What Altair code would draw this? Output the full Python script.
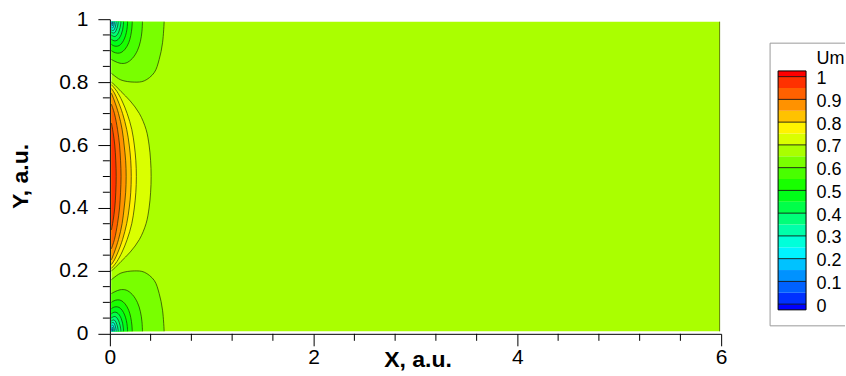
import altair as alt
import pandas as pd

FONT = "Liberation Sans"

# ---------------------------------------------------------------------------
# Contour levels of Um and the flood colour of every band
# (below 0, 0-0.05, 0.05-0.1, ..., 0.95-1, above 1)
# ---------------------------------------------------------------------------
BAND_COLORS = ["#0000FF", "#0031FF", "#0061FF", "#0092FF", "#00C2FF", "#00F3FF",
               "#00FFDA", "#00FFAA", "#00FF79", "#00FF49", "#00FF18", "#18FF00",
               "#49FF00", "#79FF00", "#AAFF00", "#DAFF00", "#FFF300", "#FFC200",
               "#FF9200", "#FF6100", "#FF3100", "#FF0000"]
BAND_LOW = [-0.025, 0.0, 0.05, 0.1, 0.15, 0.2, 0.25, 0.3, 0.35, 0.4, 0.45,
            0.5, 0.55, 0.6, 0.65, 0.7, 0.75, 0.8, 0.85, 0.9, 0.95, 1.0]
BAND_HIGH = [0.0, 0.05, 0.1, 0.15, 0.2, 0.25, 0.3, 0.35, 0.4, 0.45, 0.5,
             0.55, 0.6, 0.65, 0.7, 0.75, 0.8, 0.85, 0.9, 0.95, 1.0, 1.025]
LEGEND_LABELS = [0, 0.1, 0.2, 0.3, 0.4, 0.5, 0.6, 0.7, 0.8, 0.9, 1]

X_MAJOR = [0, 2, 4, 6]
X_MINOR = [0.4, 0.8, 1.2, 1.6, 2.4, 2.8, 3.2, 3.6, 4.4, 4.8, 5.2, 5.6]
Y_MAJOR = [0, 0.2, 0.4, 0.6, 0.8, 1]
Y_MINOR = [0.05, 0.1, 0.15, 0.25, 0.3, 0.35, 0.45, 0.5, 0.55,
           0.65, 0.7, 0.75, 0.85, 0.9, 0.95]

# computational domain and the far-field band (0.65 < Um < 0.7)
FIELD_X = [0.015, 5.985]
FIELD_Y = [0.008, 0.992]
FIELD_BAND = 14

# ---------------------------------------------------------------------------
# Core contours (Um >= level next to the inlet), upper half, y ascending;
# the lower half is the mirror image about y = 0.5
# ---------------------------------------------------------------------------
CORE_LEVELS = [0.70, 0.75, 0.80, 0.85, 0.90, 0.95]
CORE_Y = [
    [0.5, 0.55, 0.6, 0.65, 0.7, 0.74, 0.77, 0.79, 0.80],
    [0.5, 0.55, 0.6, 0.65, 0.7, 0.74, 0.77, 0.785, 0.792],
    [0.5, 0.55, 0.6, 0.65, 0.7, 0.74, 0.765, 0.78],
    [0.5, 0.55, 0.6, 0.65, 0.7, 0.74, 0.765],
    [0.5, 0.55, 0.6, 0.65, 0.7, 0.73],
    [0.5, 0.55, 0.6, 0.64, 0.67],
]
CORE_X = [
    [0.405, 0.40, 0.385, 0.355, 0.29, 0.20, 0.11, 0.05, 0.015],
    [0.26, 0.255, 0.24, 0.215, 0.17, 0.12, 0.07, 0.035, 0.015],
    [0.21, 0.205, 0.19, 0.165, 0.125, 0.08, 0.045, 0.015],
    [0.16, 0.155, 0.14, 0.12, 0.085, 0.045, 0.015],
    [0.11, 0.105, 0.095, 0.075, 0.045, 0.015],
    [0.062, 0.058, 0.048, 0.032, 0.015],
]

# ---------------------------------------------------------------------------
# Corner contours (Um <= level), bottom-left corner, x ascending;
# the top-left corner is the mirror image
# ---------------------------------------------------------------------------
CORNER_LEVELS = [0.65, 0.60, 0.55, 0.50, 0.45, 0.40, 0.35, 0.30, 0.25, 0.20, 0.15]
CORNER_X = [
    [0.015, 0.03, 0.108, 0.239, 0.337, 0.435, 0.484, 0.517, 0.533],
    [0.015, 0.05, 0.10, 0.16, 0.22, 0.27, 0.30, 0.315, 0.32],
    [0.015, 0.04, 0.075, 0.11, 0.15, 0.185, 0.205, 0.216, 0.22],
    [0.015, 0.035, 0.06, 0.09, 0.12, 0.145, 0.162, 0.171, 0.174],
    [0.015, 0.03, 0.05, 0.07, 0.093, 0.112, 0.125, 0.132, 0.134],
    [0.015, 0.027, 0.042, 0.058, 0.075, 0.09, 0.10, 0.106, 0.108],
    [0.015, 0.024, 0.034, 0.046, 0.058, 0.068, 0.076, 0.08, 0.082],
    [0.015, 0.022, 0.03, 0.038, 0.046, 0.053, 0.058, 0.061, 0.062],
    [0.015, 0.02, 0.026, 0.032, 0.037, 0.041, 0.044, 0.046],
    [0.015, 0.019, 0.023, 0.027, 0.03, 0.032, 0.033],
    [0.015, 0.018, 0.021, 0.023, 0.024],
]
CORNER_Y = [
    [0.172, 0.176, 0.193, 0.200, 0.196, 0.170, 0.128, 0.075, 0.008],
    [0.128, 0.134, 0.14, 0.139, 0.125, 0.10, 0.07, 0.038, 0.008],
    [0.10, 0.105, 0.108, 0.106, 0.095, 0.075, 0.052, 0.028, 0.008],
    [0.08, 0.084, 0.086, 0.084, 0.075, 0.06, 0.042, 0.023, 0.008],
    [0.064, 0.067, 0.069, 0.067, 0.06, 0.048, 0.034, 0.019, 0.008],
    [0.051, 0.053, 0.055, 0.054, 0.048, 0.038, 0.027, 0.016, 0.008],
    [0.041, 0.043, 0.044, 0.043, 0.038, 0.03, 0.022, 0.014, 0.008],
    [0.034, 0.035, 0.036, 0.035, 0.031, 0.025, 0.018, 0.012, 0.008],
    [0.027, 0.028, 0.028, 0.026, 0.023, 0.018, 0.013, 0.008],
    [0.021, 0.022, 0.021, 0.019, 0.016, 0.012, 0.008],
    [0.016, 0.016, 0.014, 0.011, 0.008],
]

# ---------------------------------------------------------------------------
# layout (pixels)
# ---------------------------------------------------------------------------
W, H = 612, 315
LEG_W = 75
LEG_GAP = 49
LEG_TEXT_X = 46.5
LEG_ZERO = 285.3      # legend: local pixel row of level 0
LEG_UNIT = 227.8      # legend: pixels per unit of Um
LINE_COLOR = "#1e2a00"

color_scale = alt.Scale(domain=list(range(len(BAND_COLORS))), range=BAND_COLORS)
X_SCALE = alt.Scale(domain=[0, 6], nice=False, zero=False)
Y_SCALE = alt.Scale(domain=[0, 1], nice=False, zero=False)

X_AXIS = alt.Axis(values=X_MAJOR, format="~g", title="X, a.u.", grid=False,
                  labelFont=FONT, labelFontSize=21, labelColor="black",
                  labelFlush=False, labelPadding=1,
                  tickSize=12, tickColor="black", tickWidth=1,
                  domainColor="black", domainWidth=1,
                  titleFont=FONT, titleFontSize=23, titleFontWeight="bold",
                  titleColor="black", titleX=308, titleY=33,
                  titleAlign="center", titleBaseline="alphabetic")
Y_AXIS = alt.Axis(values=Y_MAJOR, format="~g", title="Y, a.u.", grid=False,
                  labelFont=FONT, labelFontSize=21, labelColor="black",
                  labelFlush=False, labelPadding=10,
                  tickSize=12, tickColor="black", tickWidth=1,
                  domainColor="black", domainWidth=1,
                  titleFont=FONT, titleFontSize=23, titleFontWeight="bold",
                  titleColor="black", titleAngle=-90, titleX=-82, titleY=157,
                  titleAlign="center", titleBaseline="alphabetic")


def band_above(level):
    return int(round(level * 20)) + 1


def band_below(level):
    return int(round(level * 20))


def xenc(field="x"):
    return alt.X(f"{field}:Q", scale=X_SCALE, axis=X_AXIS)


def yenc(field="y"):
    return alt.Y(f"{field}:Q", scale=Y_SCALE, axis=Y_AXIS)


band_color = alt.Color("band:O", scale=color_scale, legend=None)

layers = []

# far field
field_df = pd.DataFrame({"x": [FIELD_X[0]], "x2": [FIELD_X[1]],
                         "y": [FIELD_Y[0]], "y2": [FIELD_Y[1]],
                         "band": [FIELD_BAND]})
layers.append(alt.Chart(field_df).mark_rect().encode(
    x=xenc(), x2="x2:Q", y=yenc(), y2="y2:Q", color=band_color))

# outlet boundary of the domain
layers.append(alt.Chart(field_df).mark_rule(color="#5f8200", strokeWidth=1).encode(
    x=alt.X("x2:Q", scale=X_SCALE, axis=X_AXIS), y=yenc(), y2="y2:Q"))

line_rows = []

# core region: painted from the lowest level upwards
for level, ys, xs in zip(CORE_LEVELS, CORE_Y, CORE_X):
    lower = [(1 - y, x) for y, x in zip(ys, xs) if y > 0.5][::-1]
    upper = list(zip(ys, xs))
    pts = lower + upper
    df = pd.DataFrame({"y": [p[0] for p in pts], "x": [p[1] for p in pts]})
    df["x0"] = FIELD_X[0]
    df["band"] = band_above(level)
    layers.append(alt.Chart(df).mark_area(
        orient="horizontal", interpolate="catmull-rom").encode(
        y=yenc(), x=xenc(), x2="x0:Q", color=band_color))
    for i, (y, x) in enumerate(pts):
        line_rows.append({"key": f"core{level}", "i": i, "x": x, "y": y})

# corner pockets: painted from the highest level downwards
for level, xs, ys in zip(CORNER_LEVELS, CORNER_X, CORNER_Y):
    for side in ("bottom", "top"):
        if side == "bottom":
            yy = list(ys)
            wall = FIELD_Y[0]
        else:
            yy = [1 - y for y in ys]
            wall = FIELD_Y[1]
        df = pd.DataFrame({"x": xs, "y": yy})
        df["y0"] = wall
        df["band"] = band_below(level)
        layers.append(alt.Chart(df).mark_area(
            orient="vertical", interpolate="catmull-rom").encode(
            x=xenc(), y=yenc(), y2="y0:Q", color=band_color))
        for i, (x, y) in enumerate(zip(xs, yy)):
            line_rows.append({"key": f"{side}{level}", "i": i, "x": x, "y": y})

# contour lines
lines_df = pd.DataFrame(line_rows)
layers.append(alt.Chart(lines_df).mark_line(
    interpolate="catmull-rom", color=LINE_COLOR, strokeWidth=0.8, opacity=0.85).encode(
    x=xenc(), y=yenc(), detail="key:N", order="i:Q"))

# minor ticks
layers.append(alt.Chart(pd.DataFrame({"x": X_MINOR})).mark_rule(
    color="black", strokeWidth=1).encode(
    x=xenc(), y=alt.value(H), y2=alt.value(H + 7)))
layers.append(alt.Chart(pd.DataFrame({"y": Y_MINOR})).mark_rule(
    color="black", strokeWidth=1).encode(
    y=yenc(), x=alt.value(0), x2=alt.value(-7)))

main = alt.layer(*layers).properties(width=W, height=H)

# ---------------------------------------------------------------------------
# colour legend
# ---------------------------------------------------------------------------
LEG_SCALE = alt.Scale(domain=[(LEG_ZERO - H) / LEG_UNIT, LEG_ZERO / LEG_UNIT],
                      nice=False, zero=False)
bands_df = pd.DataFrame({"lo": BAND_LOW, "hi": BAND_HIGH,
                         "band": list(range(len(BAND_COLORS)))})
labels_df = pd.DataFrame({"v": LEGEND_LABELS})
frame_df = pd.DataFrame({"a": [0]})

leg_bands = alt.Chart(bands_df).mark_rect().encode(
    x=alt.value(8), x2=alt.value(36),
    y=alt.Y("lo:Q", scale=LEG_SCALE, axis=None), y2="hi:Q", color=band_color)
leg_lines = alt.Chart(labels_df).mark_rule(color="black", strokeWidth=0.8).encode(
    x=alt.value(8), x2=alt.value(36), y=alt.Y("v:Q", scale=LEG_SCALE, axis=None))
leg_outline = alt.Chart(pd.DataFrame({"lo": [BAND_LOW[0]], "hi": [BAND_HIGH[-1]]})).mark_rect(
    fill=None, stroke="black", strokeWidth=1).encode(
    x=alt.value(8), x2=alt.value(36),
    y=alt.Y("lo:Q", scale=LEG_SCALE, axis=None), y2="hi:Q")
leg_text = alt.Chart(labels_df).mark_text(
    align="left", baseline="middle", font=FONT, fontSize=18, color="black",
    dy=2.5).encode(
    x=alt.value(LEG_TEXT_X), y=alt.Y("v:Q", scale=LEG_SCALE, axis=None),
    text=alt.Text("v:Q", format="~g"))
leg_title = alt.Chart(frame_df).mark_text(
    align="left", baseline="middle", font=FONT, fontSize=18, color="black").encode(
    x=alt.value(LEG_TEXT_X), y=alt.value(40), text=alt.value("Um"))
frame_top = alt.Chart(frame_df).mark_rule(color="#9a9a9a").encode(
    x=alt.value(0), x2=alt.value(LEG_W), y=alt.value(24))
frame_bottom = alt.Chart(frame_df).mark_rule(color="#9a9a9a").encode(
    x=alt.value(0), x2=alt.value(LEG_W), y=alt.value(307))
frame_left = alt.Chart(frame_df).mark_rule(color="#9a9a9a").encode(
    x=alt.value(0), y=alt.value(24), y2=alt.value(307))

legend = alt.layer(frame_top, frame_bottom, frame_left, leg_bands, leg_lines,
                   leg_outline, leg_text, leg_title).properties(width=LEG_W, height=H)

chart = alt.hconcat(main, legend, spacing=LEG_GAP, bounds="flush").properties(
    padding={"left": 10, "top": 8, "right": 0, "bottom": 3},
    background="white",
).configure_view(stroke=None)

chart.save("out.html", embed_options={"renderer": "svg", "actions": False})
